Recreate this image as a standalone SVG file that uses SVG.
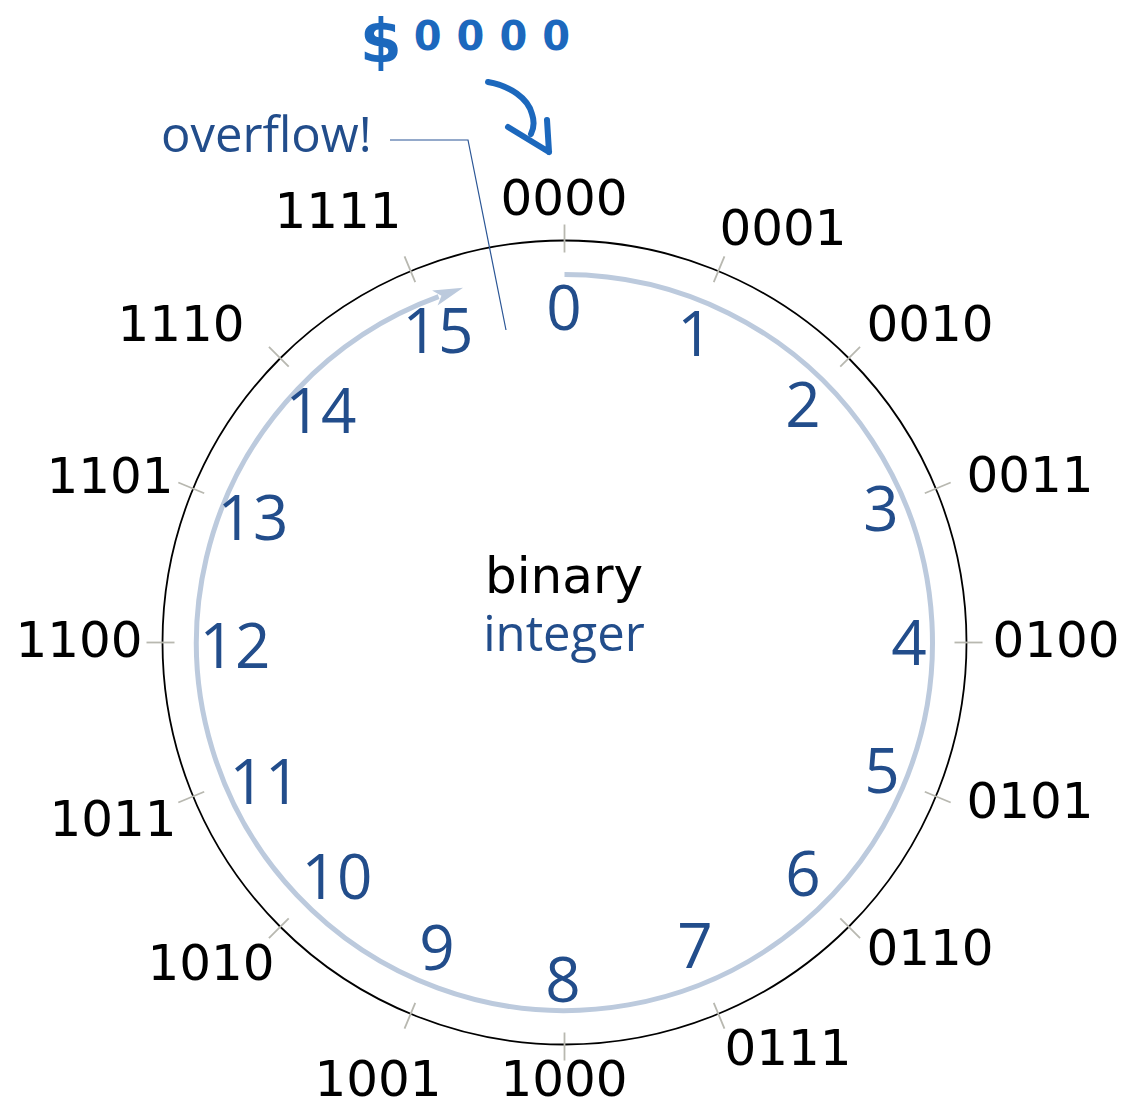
<svg xmlns="http://www.w3.org/2000/svg" width="1127" height="1110" viewBox="0 0 1127 1110">
<style>
.bin{font-family:"DejaVu Sans",sans-serif;font-size:50px;fill:#000;text-anchor:middle}
.num{font-family:"Open Sans","Noto Sans",sans-serif;font-size:62px;fill:#224d8b;text-anchor:middle}
.blue{font-family:"Open Sans","Noto Sans",sans-serif;font-size:49px;fill:#224d8b}
.tick{stroke:#b8b8b0;stroke-width:1.8}
.hand{fill:none;stroke:#1c68bd;stroke-width:6;stroke-linecap:round;stroke-linejoin:round}
</style>
<defs>
<marker id="ah" markerUnits="userSpaceOnUse" viewBox="-6 -10 34 20" markerWidth="34" markerHeight="20" refX="0" refY="0" orient="auto">
<path d="M26,0 L-4,-8 L3,0 L-4,8 Z" fill="#bccadd"/>
</marker>
</defs>
<rect width="1127" height="1110" fill="#fff"/>
<g id="dial">
<circle cx="564.5" cy="642.5" r="402" fill="none" stroke="#000" stroke-width="1.8"/>
<g id="ticks">
<line class="tick" x1="564.5" y1="252.5" x2="564.5" y2="224.5" transform="rotate(0 564.5 642.5)"/>
<line class="tick" x1="564.5" y1="252.5" x2="564.5" y2="224.5" transform="rotate(22.5 564.5 642.5)"/>
<line class="tick" x1="564.5" y1="252.5" x2="564.5" y2="224.5" transform="rotate(45 564.5 642.5)"/>
<line class="tick" x1="564.5" y1="252.5" x2="564.5" y2="224.5" transform="rotate(67.5 564.5 642.5)"/>
<line class="tick" x1="564.5" y1="252.5" x2="564.5" y2="224.5" transform="rotate(90 564.5 642.5)"/>
<line class="tick" x1="564.5" y1="252.5" x2="564.5" y2="224.5" transform="rotate(112.5 564.5 642.5)"/>
<line class="tick" x1="564.5" y1="252.5" x2="564.5" y2="224.5" transform="rotate(135 564.5 642.5)"/>
<line class="tick" x1="564.5" y1="252.5" x2="564.5" y2="224.5" transform="rotate(157.5 564.5 642.5)"/>
<line class="tick" x1="564.5" y1="252.5" x2="564.5" y2="224.5" transform="rotate(180 564.5 642.5)"/>
<line class="tick" x1="564.5" y1="252.5" x2="564.5" y2="224.5" transform="rotate(202.5 564.5 642.5)"/>
<line class="tick" x1="564.5" y1="252.5" x2="564.5" y2="224.5" transform="rotate(225 564.5 642.5)"/>
<line class="tick" x1="564.5" y1="252.5" x2="564.5" y2="224.5" transform="rotate(247.5 564.5 642.5)"/>
<line class="tick" x1="564.5" y1="252.5" x2="564.5" y2="224.5" transform="rotate(270 564.5 642.5)"/>
<line class="tick" x1="564.5" y1="252.5" x2="564.5" y2="224.5" transform="rotate(292.5 564.5 642.5)"/>
<line class="tick" x1="564.5" y1="252.5" x2="564.5" y2="224.5" transform="rotate(315 564.5 642.5)"/>
<line class="tick" x1="564.5" y1="252.5" x2="564.5" y2="224.5" transform="rotate(337.5 564.5 642.5)"/>
</g>
</g>
<g id="connectors">
<path id="count-arc" d="M564.5,274.5 A368,368 0 1 1 438.6,296.7" fill="none" stroke="#bccadd" stroke-width="5" marker-end="url(#ah)"/>
<polyline id="overflow-leader" points="390,140 468,140 506,330" fill="none" stroke="#2a5595" stroke-width="1.2"/>
<path id="hand-arrow" class="hand" d="M488,82 C510,86 528,98 532,114 C535,123 533,130 531,134 M508,127 L549,152 M547,120 L549,152"/>
</g>
<g id="binary-labels">
<text class="bin" x="564" y="215">0000</text>
<text class="bin" x="783" y="245">0001</text>
<text class="bin" x="930" y="341">0010</text>
<text class="bin" x="1030" y="492">0011</text>
<text class="bin" x="1056" y="657">0100</text>
<text class="bin" x="1030" y="818">0101</text>
<text class="bin" x="930" y="965">0110</text>
<text class="bin" x="788" y="1065">0111</text>
<text class="bin" x="564" y="1096">1000</text>
<text class="bin" x="378" y="1096">1001</text>
<text class="bin" x="211" y="980">1010</text>
<text class="bin" x="113" y="836">1011</text>
<text class="bin" x="79" y="657">1100</text>
<text class="bin" x="110" y="493">1101</text>
<text class="bin" x="181" y="341">1110</text>
<text class="bin" x="338" y="228">1111</text>
</g>
<g id="integer-labels">
<text class="num" x="564" y="330">0</text>
<text class="num" x="695" y="356">1</text>
<text class="num" x="803" y="427">2</text>
<text class="num" x="881" y="531">3</text>
<text class="num" x="909" y="665">4</text>
<text class="num" x="882" y="793">5</text>
<text class="num" x="803" y="896">6</text>
<text class="num" x="695" y="968">7</text>
<text class="num" x="563" y="1002">8</text>
<text class="num" x="437" y="970">9</text>
<text class="num" x="337" y="899">10</text>
<text class="num" x="265" y="804">11</text>
<text class="num" x="235" y="668">12</text>
<text class="num" x="253" y="540">13</text>
<text class="num" x="321" y="433">14</text>
<text class="num" x="438" y="353">15</text>
</g>
<g id="center-label">
<text class="bin" x="564" y="593">binary</text>
<text class="blue" x="564" y="651" text-anchor="middle">integer</text>
</g>
<g id="overflow-note">
<text class="blue" x="161" y="152" font-size="50">overflow!</text>
</g>
<g id="hand-note">
<text x="360" y="62" font-family="DejaVu Sans,sans-serif" font-weight="bold" fill="#1c68bd" font-size="60">$<tspan font-size="40" dy="-12" dx="12" letter-spacing="15">0000</tspan></text>
</g>
</svg>
